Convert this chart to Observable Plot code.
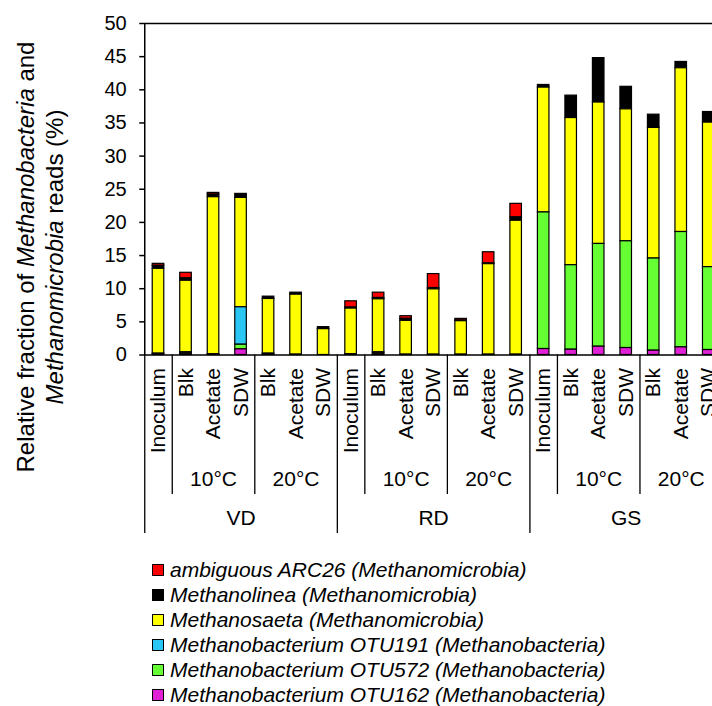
<!DOCTYPE html>
<html><head><meta charset="utf-8">
<script src="https://cdn.jsdelivr.net/npm/d3@7"></script>
<script src="https://cdn.jsdelivr.net/npm/@observablehq/plot@0.6"></script>
<style>
html,body{margin:0;padding:0;background:#fff;overflow:hidden;}
#wrap{width:712px;overflow:hidden;}
#wrap svg{max-width:none !important;}
.legend{margin-left:152px;margin-top:12px;font-family:"Liberation Sans",Arial,sans-serif;font-style:italic;font-size:21px;color:#000;}
.legend .row{display:flex;align-items:center;height:25px;white-space:nowrap;}
.legend .sw{width:10px;height:10px;border:1px solid #000;margin-right:6px;flex:none;}
</style></head><body><div id="wrap"></div>
<script>
const FONT = '"Liberation Sans", Arial, sans-serif';

// categories
const sites = ["VD", "RD", "GS"];
const treatments = ["Inoculum", "Blk", "Acetate", "SDW", "Blk", "Acetate", "SDW"];
const temps = ["", "10°C", "10°C", "10°C", "20°C", "20°C", "20°C"];
const yTicks = [0, 5, 10, 15, 20, 25, 30, 35, 40, 45, 50];

// legend order (top to bottom)
const seriesNames = [
  "ambiguous ARC26 (Methanomicrobia)",
  "Methanolinea (Methanomicrobia)",
  "Methanosaeta (Methanomicrobia)",
  "Methanobacterium OTU191 (Methanobacteria)",
  "Methanobacterium OTU572 (Methanobacteria)",
  "Methanobacterium OTU162 (Methanobacteria)"
];
const seriesColors = ["#ff0000", "#000000", "#ffff00", "#29c6f6", "#66ff33", "#e020d4"];

// values (%), 21 bars: VD(Ino,10 Blk,Ace,SDW,20 Blk,Ace,SDW), RD(...), GS(...)
const arc26        = [0.3, 0.85, 0.25, 0, 0, 0, 0,   0.95, 0.8, 0.4, 2.1, 0.25, 1.7, 2.05,   0, 0, 0, 0, 0, 0, 0];
const methanolinea = [0.45, 0.35, 0.4, 0.6, 0.35, 0.3, 0.3,   0.15, 0.2, 0.3, 0.2, 0.1, 0.1, 0.5,   0.4, 3.38, 6.7, 3.4, 2.0, 0.95, 1.6];
const methanosaeta = [12.8, 10.8, 23.7, 16.5, 8.25, 9.05, 3.9,   6.9, 8.0, 5.1, 9.85, 5.05, 13.65, 20.2,   18.83, 22.2, 21.33, 19.9, 19.7, 24.7, 21.8];
const otu191       = [0, 0, 0, 5.65, 0, 0, 0,   0, 0, 0, 0, 0, 0, 0,   0, 0, 0, 0, 0, 0, 0];
const otu572       = [0.1, 0.2, 0.05, 0.7, 0.1, 0, 0,   0.05, 0.2, 0, 0, 0, 0, 0,   20.6, 12.74, 15.5, 16.1, 13.9, 17.4, 12.5];
const otu162       = [0.1, 0.2, 0.05, 0.85, 0.1, 0.05, 0,   0.05, 0.2, 0.05, 0.05, 0.05, 0.05, 0.05,   0.9, 0.8, 1.25, 1.05, 0.65, 1.15, 0.75];
const seriesValues = [arc26, methanolinea, methanosaeta, otu191, otu572, otu162];

// build tables
const samples = [];
sites.forEach(s => treatments.forEach((t, i) => samples.push({key: s + "|" + i, site: s, idx: i, label: t, temp: temps[i]})));
const rows = [];
samples.forEach((smp, j) => seriesNames.forEach((name, k) => {
  const v = seriesValues[k][j];
  if (v > 0) rows.push({key: smp.key, series: name, value: v});
}));
const stackOrder = seriesNames.slice().reverse();

const W = 722, H = 545, mt = 23, ml = 144.25, frameBottom = 354.5;
const mb = H - frameBottom;
const frameH = frameBottom - mt;
const step = (W - ml) / samples.length;

const plot = Plot.plot({
  width: W, height: H,
  marginTop: mt, marginLeft: ml, marginRight: 0, marginBottom: mb,
  style: {fontFamily: FONT, fontSize: "20px", color: "#000", background: "#fff"},
  x: {domain: samples.map(d => d.key), paddingInner: 0.58, paddingOuter: 0.29, round: false, axis: null},
  y: {domain: [0, 50], axis: null},
  color: {domain: seriesNames, range: seriesColors},
  marks: [
    Plot.barY(rows, {x: "key", y: "value", fill: "series", order: stackOrder, stroke: "#000", strokeWidth: 1.2}),
    Plot.frame({stroke: "#000", strokeWidth: 1.5}),
    Plot.axisY({ticks: yTicks, tickSize: 5, tickPadding: 13, fontSize: 20, label: null, stroke: "#000", strokeWidth: 1.5}),
    Plot.text(samples, {x: "key", text: "label", frameAnchor: "bottom", rotate: -90, textAnchor: "end", lineAnchor: "middle", dy: 13, fontSize: 21, fill: "#000"}),
    Plot.text(samples.filter(d => d.idx === 2 || d.idx === 5), {x: "key", text: "temp", frameAnchor: "bottom", dy: 131, fontSize: 21, fill: "#000"}),
    Plot.text(samples.filter(d => d.idx === 3), {x: "key", text: "site", frameAnchor: "bottom", dy: 170, fontSize: 21, fill: "#000"}),
    Plot.ruleX(samples.filter(d => d.idx === 1 || d.idx === 4), {x: "key", dx: -step / 2, insetTop: frameH, insetBottom: -(494 - frameBottom), stroke: "#000", strokeWidth: 1.3}),
    Plot.ruleX(samples.filter(d => d.idx === 0), {x: "key", dx: -step / 2, insetTop: frameH, insetBottom: -(533 - frameBottom), stroke: "#000", strokeWidth: 1.3})
  ]
});
plot.style.maxWidth = "none";

// y-axis title with italic taxa
const svg = d3.select(plot);
const t = svg.append("text").attr("transform", "rotate(-90)").attr("text-anchor", "middle")
  .style("font-family", FONT).style("font-size", "24px").attr("fill", "#000");
const l1 = t.append("tspan").attr("x", -257).attr("y", 34);
l1.append("tspan").text("Relative fraction of ");
l1.append("tspan").style("font-style", "italic").text("Methanobacteria");
l1.append("tspan").text(" and");
const l2 = t.append("tspan").attr("x", -257).attr("y", 63);
l2.append("tspan").style("font-style", "italic").text("Methanomicrobia");
l2.append("tspan").text(" reads (%)");

const wrap = document.getElementById("wrap");
wrap.appendChild(plot);

// legend from the plot's color scale
const color = plot.scale("color");
const lg = d3.select(wrap).append("div").attr("class", "legend");
color.domain.forEach(name => {
  const r = lg.append("div").attr("class", "row");
  r.append("span").attr("class", "sw").style("background", color.apply(name));
  r.append("span").text(name);
});
</script></body></html>
